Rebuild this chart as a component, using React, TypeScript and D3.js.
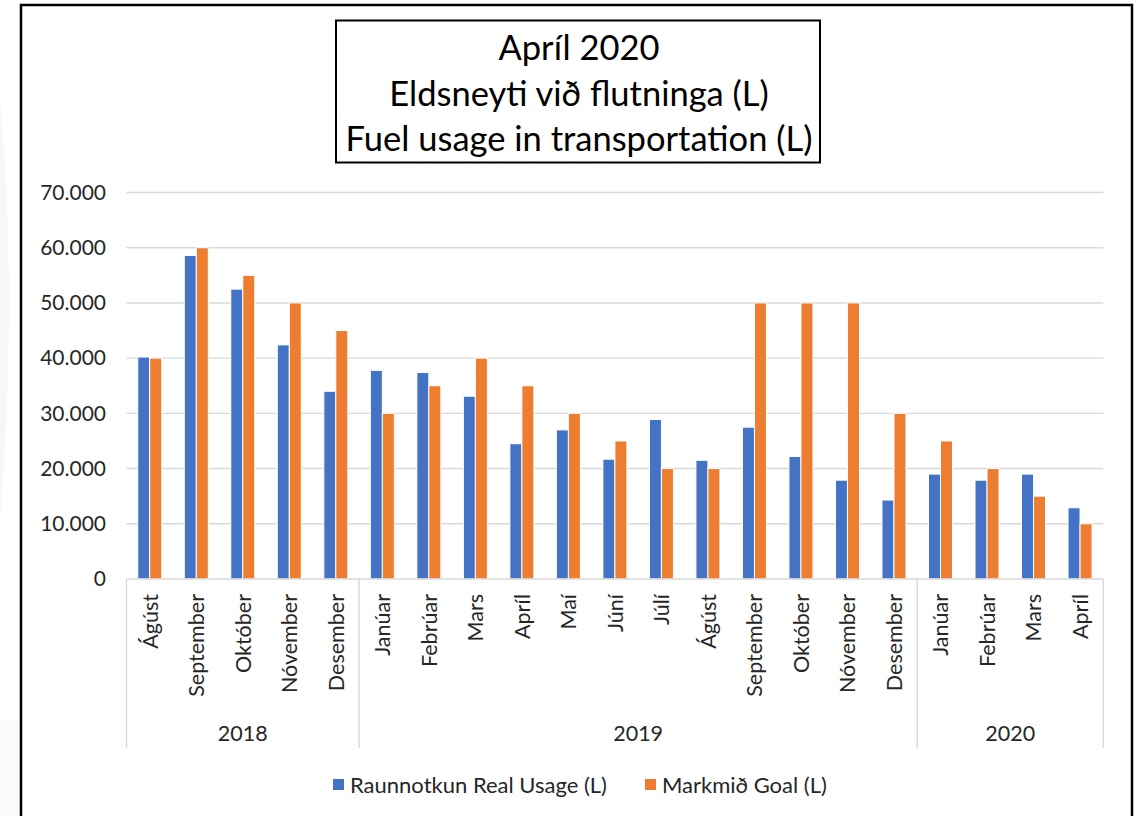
import React from "react";
import { scaleBand, scaleLinear, formatLocale, range } from "d3";

// category labels (month) and the year each block of months belongs to
const months = [
  "Ágúst", "September", "Október", "Nóvember", "Desember",
  "Janúar", "Febrúar", "Mars", "Apríl", "Maí", "Júní", "Júlí",
  "Ágúst", "September", "Október", "Nóvember", "Desember",
  "Janúar", "Febrúar", "Mars", "Apríl",
];
const years = ["2018", "2019", "2020"];
const monthsPerYear = [5, 12, 4];

const realUsage = [
  40200, 58600, 52500, 42400, 34000,
  37800, 37400, 33100, 24500, 27000, 21700, 28900,
  21500, 27500, 22200, 17900, 14300,
  19000, 17900, 19000, 12900,
];
const goal = [
  40000, 60000, 55000, 50000, 45000,
  30000, 35000, 40000, 35000, 30000, 25000, 20000,
  20000, 50000, 50000, 50000, 30000,
  25000, 20000, 15000, 10000,
];
const yTicks = [0, 10000, 20000, 30000, 40000, 50000, 60000, 70000];
const seriesNames = ["Raunnotkun Real Usage (L)", "Markmið Goal (L)"];

const titleLines = ["Apríl 2020", "Eldsneyti við flutninga (L)", "Fuel usage in transportation (L)"];

const W = 1140;
const H = 816;
const left = 126.5;
const right = 1103.3;
const top = 192.5;
const bottom = 579;
const axisBottom = 748;
const blue = "#4472C4";
const orange = "#ED7D31";
const gridColor = "#d9d9d9";
const font = "Lato, 'Open Sans', sans-serif";

const fmt = formatLocale({ decimal: ",", thousands: ".", grouping: [3], currency: ["", ""] }).format(",");

const x = scaleBand<number>().domain(range(months.length)).range([left, right]);
const inner = scaleBand<string>().domain(["real", "goal"]).range([0, 24]);
const y = scaleLinear().domain([0, 70000]).range([bottom, top]);

export default function App() {
  const step = x.step();
  const barOffset = (step - 24) / 2;

  // year group boundaries
  const bounds: number[] = [0];
  monthsPerYear.forEach((n, i) => bounds.push(bounds[i] + n));
  const xAt = (i: number) => left + i * step;

  return (
    <svg
      width={W}
      height={H}
      style={{ position: "absolute", left: 0, top: 0, background: "#fff" }}
      fontFamily={font}
    >
      <rect x={0} y={0} width={W} height={H} fill="#fff" />
      <path d="M0,100 Q18,300 0,520 Z" fill="#f7f7f9" />
      <rect x={0} y={720} width={20} height={H} fill="#fafafa" />
      {/* outer frame */}
      <rect x={21} y={5} width={1111} height={900} fill="#fff" stroke="#000" strokeWidth={2.5} />

      {/* title box */}
      <rect x={336} y={20.5} width={484} height={142} fill="#fff" stroke="#000" strokeWidth={2} />
      {titleLines.map((t, i) => (
        <text key={i} x={579} y={48 + i * 45.5} dy="0.35em" textAnchor="middle" fontSize={34.5} fill="#000">
          {t}
        </text>
      ))}

      {/* gridlines + y labels */}
      {yTicks.map((t) => (
        <g key={t}>
          {t > 0 && (
            <line x1={left} x2={right} y1={y(t)} y2={y(t)} stroke={gridColor} strokeWidth={1.4} />
          )}
          <text x={106} y={y(t)} dy="0.35em" textAnchor="end" fontSize={21} fill="#262626">
            {fmt(t)}
          </text>
        </g>
      ))}

      {/* bars */}
      {months.map((_, i) => (
        <g key={i} transform={`translate(${x(i)! + barOffset},0)`}>
          <rect
            x={inner("real")}
            y={y(realUsage[i])}
            width={inner.bandwidth()}
            height={bottom - y(realUsage[i])}
            fill={blue}
            stroke="#fff"
            strokeWidth={1}
          />
          <rect
            x={inner("goal")}
            y={y(goal[i])}
            width={inner.bandwidth()}
            height={bottom - y(goal[i])}
            fill={orange}
            stroke="#fff"
            strokeWidth={1}
          />
        </g>
      ))}

      {/* category axis */}
      <line x1={left} x2={right} y1={bottom} y2={bottom} stroke={gridColor} strokeWidth={1.4} />
      {bounds.map((b, i) => (
        <line key={i} x1={xAt(b)} x2={xAt(b)} y1={bottom} y2={axisBottom} stroke={gridColor} strokeWidth={1.4} />
      ))}
      {months.map((m, i) => (
        <text
          key={i}
          transform={`translate(${x(i)! + step / 2},594) rotate(-90)`}
          dy="0.36em"
          textAnchor="end"
          fontSize={21.5}
          fill="#262626"
        >
          {m}
        </text>
      ))}
      {years.map((yr, i) => (
        <text
          key={yr}
          x={(xAt(bounds[i]) + xAt(bounds[i + 1])) / 2}
          y={733}
          dy="0.35em"
          textAnchor="middle"
          fontSize={21.5}
          fill="#262626"
        >
          {yr}
        </text>
      ))}

      {/* legend */}
      <rect x={333} y={779} width={11} height={11} fill={blue} />
      <text x={350} y={785} dy="0.35em" fontSize={22} fill="#262626">
        {seriesNames[0]}
      </text>
      <rect x={645} y={779} width={11} height={11} fill={orange} />
      <text x={662} y={785} dy="0.35em" fontSize={22} fill="#262626">
        {seriesNames[1]}
      </text>
    </svg>
  );
}
